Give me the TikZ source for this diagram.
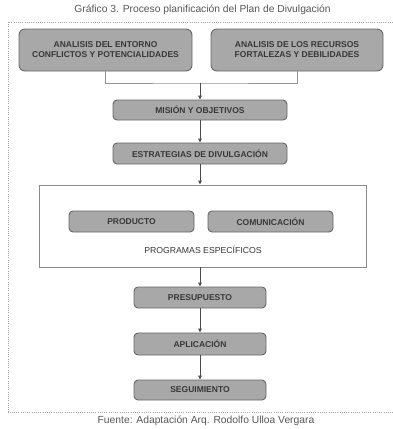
\documentclass[tikz,border=0pt]{standalone}
\usepackage{fontspec}
\setmainfont{Liberation Sans}
\usetikzlibrary{arrows.meta}
\definecolor{boxfill}{HTML}{A8A8A8}
\definecolor{boxdraw}{HTML}{666666}
\definecolor{txt}{HTML}{383838}
\definecolor{linec}{HTML}{4A4A4A}
\definecolor{bigdraw}{HTML}{8A8A8A}
\begin{document}
\begin{tikzpicture}[x=1pt,y=1pt,
  stepbox/.style={draw=boxdraw, line width=0.9pt, fill=boxfill, rounded corners=4pt,
    text=txt, font=\fontsize{8.5}{10}\selectfont\bfseries, inner sep=0pt, align=center},
  arr/.style={draw=linec, line width=1pt, -{Triangle[length=4pt,width=3.5pt]}},
  conn/.style={draw=linec!60, line width=1pt},
  dotline/.style={draw=gray!70, line width=0.7pt, dash pattern=on 1pt off 1.2pt}]
\useasboundingbox (0,0) rectangle (393,-429);
% title
\node[text=txt!85, font=\fontsize{10.3}{12}\selectfont] (title) at (202.5,-10) {Gráfico 3. Proceso planificación del Plan de Divulgación};
% dotted frame
\coordinate (f1) at (393,-22);
\coordinate (f2) at (8,-22);
\coordinate (f3) at (8,-412);
\coordinate (f4) at (393,-412);
\draw[dotline] (f1) -- (f2) -- (f3) -- (f4);
% top boxes
\node[stepbox, rounded corners=6pt, minimum width=173pt, minimum height=42pt] (A) at (105.5,-50) {ANALISIS DEL ENTORNO\\CONFLICTOS Y POTENCIALIDADES};
\node[stepbox, rounded corners=6pt, minimum width=172pt, minimum height=42pt] (B) at (297,-50) {ANALISIS DE LOS RECURSOS\\FORTALEZAS Y DEBILIDADES};
\coordinate (j) at (200,-83);
\draw[conn] (A.south) |- (j) -| (B.south);
% chain
\node[stepbox, minimum width=174pt, minimum height=20pt] (M) at (200,-110) {MISIÓN Y OBJETIVOS};
\node[stepbox, minimum width=174pt, minimum height=21pt] (E) at (200,-153.5) {ESTRATEGIAS DE DIVULGACIÓN};
\node[draw=bigdraw, line width=0.8pt, fill=white, minimum width=327pt, minimum height=82pt, inner sep=0pt] (P) at (202.5,-226) {};
\node[stepbox, minimum width=125pt, minimum height=21pt] (P1) at (131.5,-221.5) {PRODUCTO};
\node[stepbox, minimum width=125pt, minimum height=21pt] (P2) at (270.5,-221.5) {COMUNICACIÓN};
\node[text=txt, font=\fontsize{8.7}{10}\selectfont] (PL) at (203,-250) {PROGRAMAS ESPECÍFICOS};
\node[stepbox, minimum width=132pt, minimum height=21pt] (S1) at (200,-297.5) {PRESUPUESTO};
\node[stepbox, minimum width=132pt, minimum height=22pt] (S2) at (200,-344) {APLICACIÓN};
\node[stepbox, minimum width=132pt, minimum height=20pt] (S3) at (200,-390) {SEGUIMIENTO};
\draw[arr] (j) -- (M.north);
\draw[arr] (M.south) -- (E.north);
\draw[arr] (E.south) -- (E.south |- P.north);
\draw[arr] (S1.north |- P.south) -- (S1.north);
\draw[arr] (S1.south) -- (S2.north);
\draw[arr] (S2.south) -- (S3.north);
% source
\node[text=txt!85, font=\fontsize{10.3}{12}\selectfont] (src) at (206,-421) {Fuente: Adaptación Arq. Rodolfo Ulloa Vergara};
\end{tikzpicture}
\end{document}
